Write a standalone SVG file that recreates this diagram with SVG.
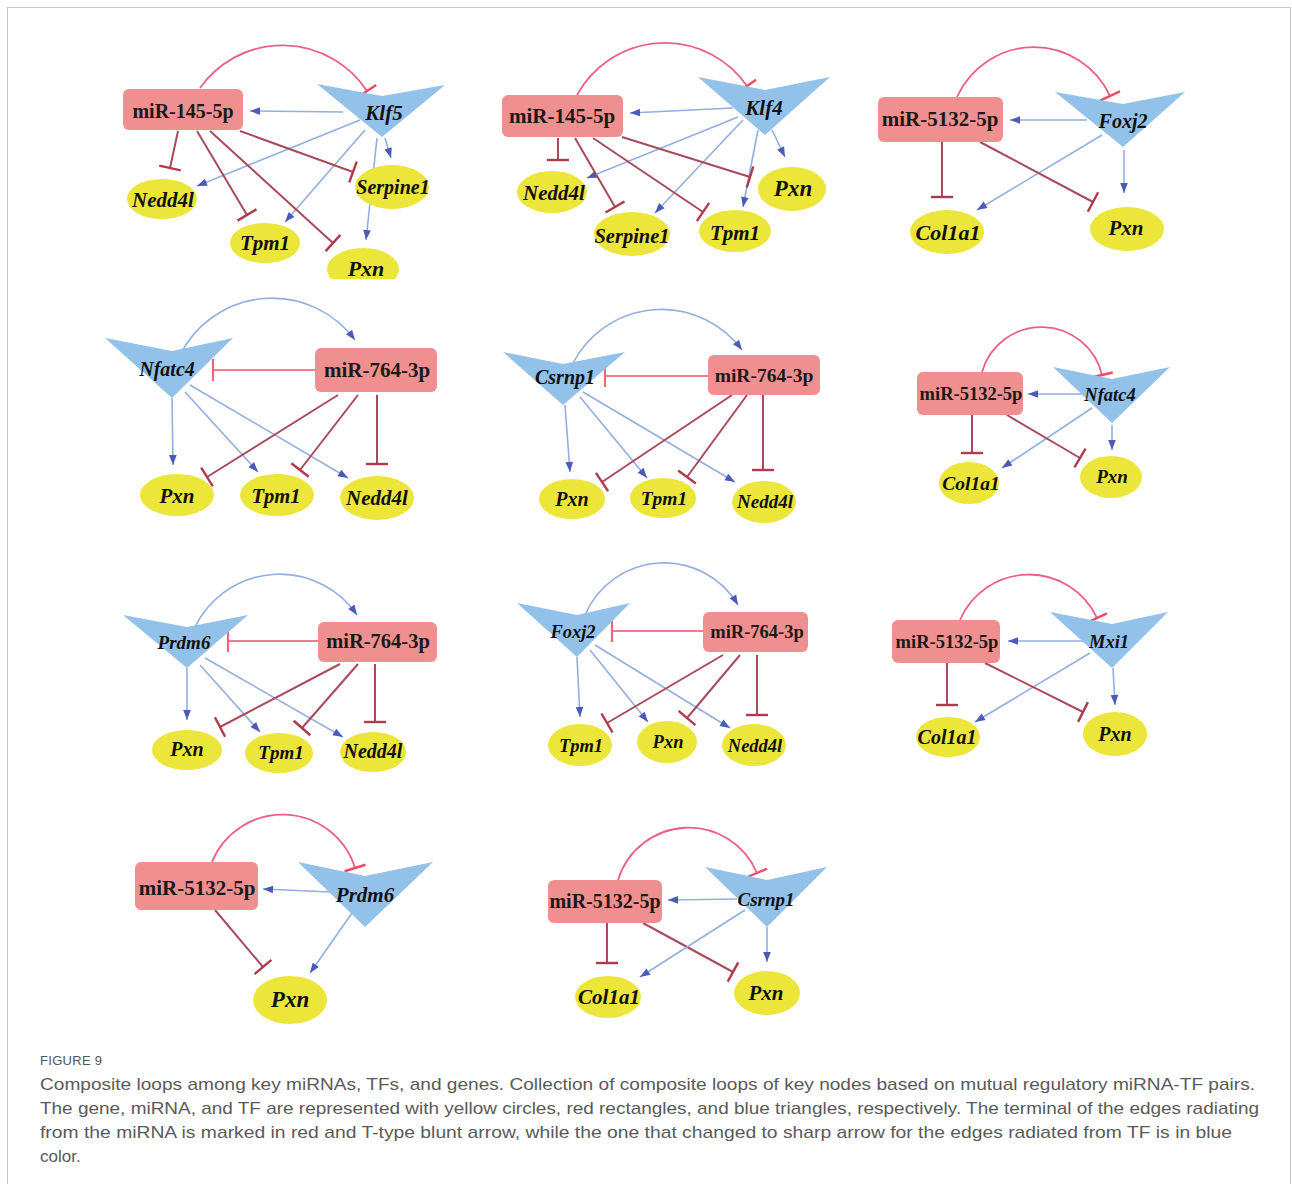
<svg xmlns="http://www.w3.org/2000/svg" width="1292" height="1184" viewBox="0 0 1292 1184">
<defs>
<style>
.rn{fill:#f08f8f}
.tf{fill:#92c1ea}
.gn{fill:#ece53a}
.ml{font-family:"Liberation Serif","Times New Roman",serif;font-weight:bold;fill:#1a1a1a;text-anchor:middle}
.gl{font-family:"Liberation Serif","Times New Roman",serif;font-weight:bold;font-style:italic;fill:#111;text-anchor:middle}
.eb{stroke:#93aee0;stroke-width:1.6;fill:none;marker-end:url(#ab)}
.er{stroke:#a84a5c;stroke-width:2;fill:none;marker-end:url(#tr)}
.ep{stroke:#ec6088;stroke-width:1.8;fill:none;marker-end:url(#tp)}
.eh{stroke:#f27d93;stroke-width:2;fill:none;marker-end:url(#th)}
.cap{font-family:"Liberation Sans","Open Sans",sans-serif;fill:#5a5a5a;font-size:17px}
</style>
<marker id="ab" markerUnits="userSpaceOnUse" markerWidth="12" markerHeight="10" viewBox="-11 -5 12 10" refX="0" refY="0" orient="auto"><path d="M-10,-3.8 L0,0 L-10,3.8 z" fill="#4a5ab8"/></marker>
<marker id="tr" markerUnits="userSpaceOnUse" markerWidth="4" markerHeight="24" viewBox="-2 -12 4 24" refX="0" refY="0" orient="auto"><path d="M0,-11V11" stroke="#b03a4c" stroke-width="2.4"/></marker>
<marker id="tp" markerUnits="userSpaceOnUse" markerWidth="4" markerHeight="24" viewBox="-2 -12 4 24" refX="0" refY="0" orient="auto"><path d="M0,-11V11" stroke="#ee4a68" stroke-width="2.4"/></marker>
<marker id="th" markerUnits="userSpaceOnUse" markerWidth="4" markerHeight="24" viewBox="-2 -12 4 24" refX="0" refY="0" orient="auto"><path d="M0,-11V11" stroke="#f0647e" stroke-width="2.2"/></marker>
<clipPath id="c1"><rect x="0" y="0" width="1292" height="279"/></clipPath>
</defs>
<rect x="0" y="0" width="1292" height="1184" fill="#ffffff"/>
<rect x="7.5" y="7.5" width="1283" height="1200" fill="none" stroke="#c8c8c8" stroke-width="1"/>

<g id="connectors">
<!-- P1 -->
<path class="ep" d="M200,88 A101,101 0 0 1 367,91"/>
<path class="eb" d="M343,112 L250,111"/>
<path class="eb" d="M360,120 L197,186"/>
<path class="eb" d="M365,130 L285,222"/>
<path class="eb" d="M377,138 L366,240"/>
<path class="eb" d="M385,138 L391,158"/>
<path class="er" d="M178,131 L170,168"/>
<path class="er" d="M197,131 L247,215"/>
<path class="er" d="M210,131 L333,243"/>
<path class="er" d="M240,131 L353,172"/>
<!-- P2 -->
<path class="ep" d="M577,95 A100,100 0 0 1 747,86"/>
<path class="eb" d="M733,108 L630,113"/>
<path class="eb" d="M738,117 L587,178"/>
<path class="eb" d="M743,120 L655,213"/>
<path class="eb" d="M758,130 L743,207"/>
<path class="eb" d="M772,130 L785,157"/>
<path class="er" d="M558,138 L558,160"/>
<path class="er" d="M575,138 L615,207"/>
<path class="er" d="M593,138 L703,212"/>
<path class="er" d="M622,137 L750,177"/>
<!-- P3 -->
<path class="ep" d="M957,97 A84,84 0 0 1 1110,96"/>
<path class="eb" d="M1087,120 L1010,120"/>
<path class="eb" d="M1102,135 L977,210"/>
<path class="eb" d="M1124,150 L1124,193"/>
<path class="er" d="M942,142 L942,197"/>
<path class="er" d="M980,142 L1093,202"/>
<!-- P4 -->
<path class="eb" d="M180,355 A103,103 0 0 1 355,340"/>
<path class="eh" d="M315,370 L213,370"/>
<path class="eb" d="M172,398 L173,465"/>
<path class="eb" d="M185,392 L258,472"/>
<path class="eb" d="M190,385 L348,478"/>
<path class="er" d="M338,395 L207,477"/>
<path class="er" d="M358,395 L300,470"/>
<path class="er" d="M377,395 L377,464"/>
<!-- P5 -->
<path class="eb" d="M573,363 A100,100 0 0 1 742,350"/>
<path class="eh" d="M708,376 L605,376"/>
<path class="eb" d="M565,405 L570,472"/>
<path class="eb" d="M580,397 L647,478"/>
<path class="eb" d="M583,392 L735,482"/>
<path class="er" d="M732,395 L602,482"/>
<path class="er" d="M747,395 L687,477"/>
<path class="er" d="M763,395 L763,470"/>
<!-- P6 -->
<path class="ep" d="M982,372 A62,62 0 0 1 1102,375"/>
<path class="eb" d="M1083,394 L1028,394"/>
<path class="eb" d="M1092,408 L1002,468"/>
<path class="eb" d="M1112,425 L1112,450"/>
<path class="er" d="M972,415 L972,453"/>
<path class="er" d="M1007,415 L1080,458"/>
<!-- P7 -->
<path class="eb" d="M195,627 A94,94 0 0 1 357,615"/>
<path class="eh" d="M318,641 L228,641"/>
<path class="eb" d="M187,668 L187,720"/>
<path class="eb" d="M200,665 L260,732"/>
<path class="eb" d="M205,658 L343,737"/>
<path class="er" d="M340,664 L220,727"/>
<path class="er" d="M358,664 L302,728"/>
<path class="er" d="M375,664 L375,722"/>
<!-- P8 -->
<path class="eb" d="M585,615 A86,86 0 0 1 738,605"/>
<path class="eh" d="M703,631 L612,631"/>
<path class="eb" d="M577,657 L580,717"/>
<path class="eb" d="M590,650 L648,722"/>
<path class="eb" d="M595,645 L730,728"/>
<path class="er" d="M723,655 L607,723"/>
<path class="er" d="M740,655 L687,718"/>
<path class="er" d="M757,655 L757,715"/>
<!-- P9 -->
<path class="ep" d="M960,620 A75,75 0 0 1 1097,618"/>
<path class="eb" d="M1083,641 L1008,641"/>
<path class="eb" d="M1090,653 L975,722"/>
<path class="eb" d="M1113,668 L1115,705"/>
<path class="er" d="M947,663 L947,705"/>
<path class="er" d="M985,663 L1083,712"/>
<!-- P10 -->
<path class="ep" d="M212,862 A76,76 0 0 1 355,868"/>
<path class="eb" d="M330,892 L263,889"/>
<path class="er" d="M215,910 L263,967"/>
<path class="eb" d="M352,913 L310,973"/>
<!-- P11 -->
<path class="ep" d="M618,880 A74,74 0 0 1 757,873"/>
<path class="eb" d="M737,899 L668,900"/>
<path class="er" d="M607,923 L607,963"/>
<path class="er" d="M643,923 L733,972"/>
<path class="eb" d="M745,910 L640,977"/>
<path class="eb" d="M767,927 L767,962"/>
</g>

<!-- Panel 1 -->
<g id="p1-mir"><rect class="rn" x="123" y="89" width="120" height="41" rx="6"/><text class="ml" x="183" y="118" font-size="20">miR-145-5p</text></g>
<g id="p1-klf5"><polygon class="tf" points="317,84 382,96 445,85 382,137"/><text class="gl" x="384" y="120" font-size="21">Klf5</text></g>
<g id="p1-nedd4l"><ellipse class="gn" cx="162" cy="199" rx="35" ry="20"/><text class="gl" x="163" y="207" font-size="21">Nedd4l</text></g>
<g id="p1-serpine1"><ellipse class="gn" cx="392" cy="187" rx="37" ry="22"/><text class="gl" x="393" y="194" font-size="20">Serpine1</text></g>
<g id="p1-tpm1"><ellipse class="gn" cx="265" cy="243" rx="35" ry="20"/><text class="gl" x="265" y="250" font-size="21">Tpm1</text></g>
<g id="p1-pxn" clip-path="url(#c1)"><ellipse class="gn" cx="363" cy="269" rx="36" ry="21"/><text class="gl" x="366" y="276" font-size="22">Pxn</text></g>

<!-- Panel 2 -->
<g id="p2-mir"><rect class="rn" x="502" y="95" width="121" height="42" rx="6"/><text class="ml" x="562" y="123" font-size="21">miR-145-5p</text></g>
<g id="p2-klf4"><polygon class="tf" points="698,77 765,90 830,77 765,135"/><text class="gl" x="764" y="115" font-size="21">Klf4</text></g>
<g id="p2-nedd4l"><ellipse class="gn" cx="552" cy="192" rx="35" ry="21"/><text class="gl" x="554" y="200" font-size="21">Nedd4l</text></g>
<g id="p2-serpine1"><ellipse class="gn" cx="632" cy="234" rx="38" ry="22"/><text class="gl" x="632" y="243" font-size="20.5">Serpine1</text></g>
<g id="p2-tpm1"><ellipse class="gn" cx="735" cy="231" rx="36" ry="21"/><text class="gl" x="735" y="240" font-size="21">Tpm1</text></g>
<g id="p2-pxn"><ellipse class="gn" cx="792" cy="189" rx="34" ry="22"/><text class="gl" x="793" y="196" font-size="23">Pxn</text></g>

<!-- Panel 3 -->
<g id="p3-mir"><rect class="rn" x="878" y="97" width="125" height="45" rx="6"/><text class="ml" x="940" y="126" font-size="21">miR-5132-5p</text></g>
<g id="p3-foxj2"><polygon class="tf" points="1055,92 1123,104 1185,92 1123,147"/><text class="gl" x="1123" y="128" font-size="20">Foxj2</text></g>
<g id="p3-col1a1"><ellipse class="gn" cx="947" cy="232" rx="37" ry="22"/><text class="gl" x="948" y="240" font-size="22">Col1a1</text></g>
<g id="p3-pxn"><ellipse class="gn" cx="1127" cy="229" rx="37" ry="22"/><text class="gl" x="1126" y="235" font-size="21">Pxn</text></g>

<!-- Panel 4 -->
<g id="p4-nfatc4"><polygon class="tf" points="105,338 172,351 233,338 172,398"/><text class="gl" x="167" y="376" font-size="20">Nfatc4</text></g>
<g id="p4-mir"><rect class="rn" x="315" y="348" width="122" height="44" rx="6"/><text class="ml" x="377" y="377" font-size="21">miR-764-3p</text></g>
<g id="p4-pxn"><ellipse class="gn" cx="177" cy="495" rx="37" ry="21"/><text class="gl" x="177" y="503" font-size="21">Pxn</text></g>
<g id="p4-tpm1"><ellipse class="gn" cx="277" cy="495" rx="37" ry="21"/><text class="gl" x="276" y="503" font-size="20.5">Tpm1</text></g>
<g id="p4-nedd4l"><ellipse class="gn" cx="377" cy="498" rx="37" ry="22"/><text class="gl" x="377" y="505" font-size="21">Nedd4l</text></g>

<!-- Panel 5 -->
<g id="p5-csrnp1"><polygon class="tf" points="503,352 563,364 625,352 563,405"/><text class="gl" x="565" y="384" font-size="20">Csrnp1</text></g>
<g id="p5-mir"><rect class="rn" x="708" y="355" width="112" height="40" rx="6"/><text class="ml" x="764" y="382" font-size="19.5">miR-764-3p</text></g>
<g id="p5-pxn"><ellipse class="gn" cx="572" cy="499" rx="33" ry="20"/><text class="gl" x="572" y="506" font-size="20">Pxn</text></g>
<g id="p5-tpm1"><ellipse class="gn" cx="663" cy="498" rx="33" ry="20"/><text class="gl" x="664" y="505" font-size="19.5">Tpm1</text></g>
<g id="p5-nedd4l"><ellipse class="gn" cx="764" cy="502" rx="32" ry="21"/><text class="gl" x="765" y="508" font-size="19">Nedd4l</text></g>

<!-- Panel 6 -->
<g id="p6-mir"><rect class="rn" x="917" y="372" width="106" height="43" rx="6"/><text class="ml" x="971" y="400" font-size="18.5">miR-5132-5p</text></g>
<g id="p6-nfatc4"><polygon class="tf" points="1053,367 1112,379 1170,367 1112,423"/><text class="gl" x="1110" y="401" font-size="18.5">Nfatc4</text></g>
<g id="p6-col1a1"><ellipse class="gn" cx="969" cy="483" rx="30" ry="21"/><text class="gl" x="971" y="490" font-size="19.5">Col1a1</text></g>
<g id="p6-pxn"><ellipse class="gn" cx="1111" cy="477" rx="31" ry="21"/><text class="gl" x="1112" y="483" font-size="19">Pxn</text></g>

<!-- Panel 7 -->
<g id="p7-prdm6"><polygon class="tf" points="123,615 187,627 248,615 187,668"/><text class="gl" x="184" y="649" font-size="19">Prdm6</text></g>
<g id="p7-mir"><rect class="rn" x="318" y="622" width="119" height="40" rx="6"/><text class="ml" x="378" y="648" font-size="20.5">miR-764-3p</text></g>
<g id="p7-pxn"><ellipse class="gn" cx="187" cy="750" rx="35" ry="20"/><text class="gl" x="187" y="756" font-size="20">Pxn</text></g>
<g id="p7-tpm1"><ellipse class="gn" cx="279" cy="753" rx="34" ry="20"/><text class="gl" x="281" y="759" font-size="19">Tpm1</text></g>
<g id="p7-nedd4l"><ellipse class="gn" cx="373" cy="752" rx="33" ry="20"/><text class="gl" x="373" y="758" font-size="20">Nedd4l</text></g>

<!-- Panel 8 -->
<g id="p8-foxj2"><polygon class="tf" points="517,603 577,615 630,603 577,657"/><text class="gl" x="573" y="638" font-size="18.5">Foxj2</text></g>
<g id="p8-mir"><rect class="rn" x="703" y="612" width="105" height="40" rx="6"/><text class="ml" x="757" y="638" font-size="18.5">miR-764-3p</text></g>
<g id="p8-tpm1"><ellipse class="gn" cx="580" cy="745" rx="32" ry="21"/><text class="gl" x="581" y="752" font-size="18.5">Tpm1</text></g>
<g id="p8-pxn"><ellipse class="gn" cx="667" cy="742" rx="30" ry="21"/><text class="gl" x="668" y="748" font-size="18.5">Pxn</text></g>
<g id="p8-nedd4l"><ellipse class="gn" cx="754" cy="745" rx="32" ry="21"/><text class="gl" x="755" y="752" font-size="18.5">Nedd4l</text></g>

<!-- Panel 9 -->
<g id="p9-mir"><rect class="rn" x="892" y="620" width="108" height="43" rx="6"/><text class="ml" x="947" y="648" font-size="18.5">miR-5132-5p</text></g>
<g id="p9-mxi1"><polygon class="tf" points="1050,612 1112,624 1168,612 1112,668"/><text class="gl" x="1109" y="648" font-size="18.5">Mxi1</text></g>
<g id="p9-col1a1"><ellipse class="gn" cx="948" cy="737" rx="32" ry="20"/><text class="gl" x="947" y="744" font-size="20">Col1a1</text></g>
<g id="p9-pxn"><ellipse class="gn" cx="1115" cy="734" rx="32" ry="22"/><text class="gl" x="1115" y="741" font-size="20">Pxn</text></g>

<!-- Panel 10 -->
<g id="p10-mir"><rect class="rn" x="135" y="862" width="123" height="48" rx="6"/><text class="ml" x="197" y="895" font-size="21">miR-5132-5p</text></g>
<g id="p10-prdm6"><polygon class="tf" points="298,862 365,876 433,862 365,927"/><text class="gl" x="365" y="902" font-size="21">Prdm6</text></g>
<g id="p10-pxn"><ellipse class="gn" cx="290" cy="1000" rx="37" ry="24"/><text class="gl" x="290" y="1007" font-size="23">Pxn</text></g>

<!-- Panel 11 -->
<g id="p11-mir"><rect class="rn" x="548" y="880" width="114" height="43" rx="6"/><text class="ml" x="605" y="908" font-size="20">miR-5132-5p</text></g>
<g id="p11-csrnp1"><polygon class="tf" points="705,867 767,880 827,867 767,927"/><text class="gl" x="766" y="906" font-size="19">Csrnp1</text></g>
<g id="p11-col1a1"><ellipse class="gn" cx="608" cy="997" rx="33" ry="21"/><text class="gl" x="609" y="1004" font-size="21">Col1a1</text></g>
<g id="p11-pxn"><ellipse class="gn" cx="767" cy="993" rx="33" ry="22"/><text class="gl" x="766" y="1000" font-size="21">Pxn</text></g>

<!-- Caption -->
<g id="caption">
<text x="40" y="1065" font-family="Liberation Sans, Open Sans, sans-serif" font-size="13" fill="#555" letter-spacing="0.3">FIGURE 9</text>
<text class="cap" x="40" y="1090" textLength="1215" lengthAdjust="spacingAndGlyphs">Composite loops among key miRNAs, TFs, and genes. Collection of composite loops of key nodes based on mutual regulatory miRNA-TF pairs.</text>
<text class="cap" x="40" y="1114" textLength="1219" lengthAdjust="spacingAndGlyphs">The gene, miRNA, and TF are represented with yellow circles, red rectangles, and blue triangles, respectively. The terminal of the edges radiating</text>
<text class="cap" x="40" y="1138" textLength="1192" lengthAdjust="spacingAndGlyphs">from the miRNA is marked in red and T-type blunt arrow, while the one that changed to sharp arrow for the edges radiated from TF is in blue</text>
<text class="cap" x="40" y="1162">color.</text>
</g>
</svg>
